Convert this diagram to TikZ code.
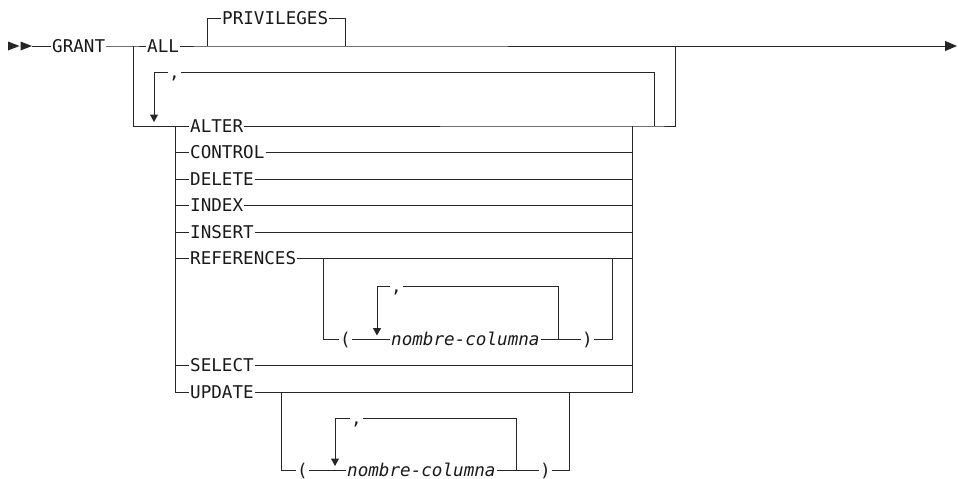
\documentclass[tikz,border=0pt]{standalone}
\usepackage{fontspec}
\usetikzlibrary{arrows.meta}
\newfontfamily\rrfont{DejaVu Sans Mono}
\begin{document}
\begin{tikzpicture}[x=1pt,y=-1pt,
  rail/.style={draw=black!85,line width=1pt},
  kw/.style={anchor=west,inner xsep=1pt,inner ysep=0pt,text height=12.8pt,text depth=0pt,
    font=\rrfont\fontsize{17.6pt}{20pt}\selectfont,text=black!90},
  var/.style={kw,font=\rrfont\itshape\fontsize{17.6pt}{20pt}\selectfont},
  downarr/.style={rail,-{Triangle[width=8pt,length=7.5pt]}},
  endarr/.style={rail,-{Triangle[width=10pt,length=12pt]}}]
\useasboundingbox (0,0) rectangle (958,479);

% ---- keywords and operands
\node[kw] (grant) at (51,46) {GRANT};
\node[kw] (all) at (146,46) {ALL};
\node[kw] (priv) at (221,18) {PRIVILEGES};
\node[kw] (c1) at (168,72) {,};
\node[kw] (alter) at (189,126) {ALTER};
\node[kw] (control) at (189,152.5) {CONTROL};
\node[kw] (delete) at (189,179) {DELETE};
\node[kw] (index) at (189,205.5) {INDEX};
\node[kw] (insert) at (189,232) {INSERT};
\node[kw] (refs) at (189,258.5) {REFERENCES};
\node[kw] (refc) at (390,286.5) {,};
\node[kw] (refp) at (339,339.5) {(};
\node[var] (refcol) at (390,339.5) {nombre-columna};
\node[kw] (refr) at (581,339.5) {)};
\node[kw] (select) at (189,365.5) {SELECT};
\node[kw] (update) at (189,392) {UPDATE};
\node[kw] (upc) at (350,418.5) {,};
\node[kw] (upp) at (296,470) {(};
\node[var] (upcol) at (346,470) {nombre-columna};
\node[kw] (upr) at (539,470) {)};

% ---- junction points
\coordinate (st) at (32,46);
\coordinate (j0) at (133,46);
\coordinate (pv1) at (207,46);
\coordinate (pv2) at (345,46);
\coordinate (jR) at (675,46);
\coordinate (fin) at (957,46);
\coordinate (lpL) at (154,122);
\coordinate (cL0) at (175,126);
\coordinate (cR0) at (632,126);
\coordinate (lpR) at (654,126);
\coordinate (oR) at (675,126);
\coordinate (refA) at (323,258.5);
\coordinate (refB) at (612,258.5);
\coordinate (rlL) at (377,335.5);
\coordinate (rlR) at (558,339.5);
\coordinate (upA) at (281,392);
\coordinate (upB) at (569,392);
\coordinate (ulL) at (335,466);
\coordinate (ulR) at (516,470);

% ---- statement start marker
\fill[black!85] (8,41.5) -- (19.5,46) -- (8,50.5) -- cycle;
\fill[black!85] (20.5,41.5) -- (32,46) -- (20.5,50.5) -- cycle;

% ---- main line
\draw[rail] (st) -- (grant.west);
\draw[rail] (grant.east) -- (j0) -- (all.west);
\draw[rail] (all.east) -- (pv1) -- (pv2) -- (jR);
\draw[endarr] (jR) -- (fin);
\draw[rail] (pv1) |- (priv.west);
\draw[rail] (priv.east) -| (pv2);

% ---- privilege list with repeat loop
\draw[rail] (j0) |- (alter.west);
\draw[rail] (alter.east) -- (cR0) -- (lpR) -- (oR) -- (jR);
\draw[rail] (lpR) |- (c1.east);
\draw[downarr] (c1.west) -| (lpL);
\draw[rail] (cL0) |- (update.west);
\draw[rail] (update.east) -| (cR0);
\foreach \r in {control,delete,index,insert,refs,select}{
  \draw[rail] (cL0 |- \r.west) -- (\r.west);
  \draw[rail] (\r.east) -- (cR0 |- \r.east);
}

% ---- REFERENCES column list
\draw[rail] (refA) |- (refp.west);
\draw[rail] (refp.east) -- (refcol.west);
\draw[rail] (refcol.east) -- (refr.west);
\draw[rail] (refr.east) -| (refB);
\draw[rail] (rlR) |- (refc.east);
\draw[downarr] (refc.west) -| (rlL);

% ---- UPDATE column list
\draw[rail] (upA) |- (upp.west);
\draw[rail] (upp.east) -- (upcol.west);
\draw[rail] (upcol.east) -- (upr.west);
\draw[rail] (upr.east) -| (upB);
\draw[rail] (ulR) |- (upc.east);
\draw[downarr] (upc.west) -| (ulL);
\end{tikzpicture}
\end{document}
